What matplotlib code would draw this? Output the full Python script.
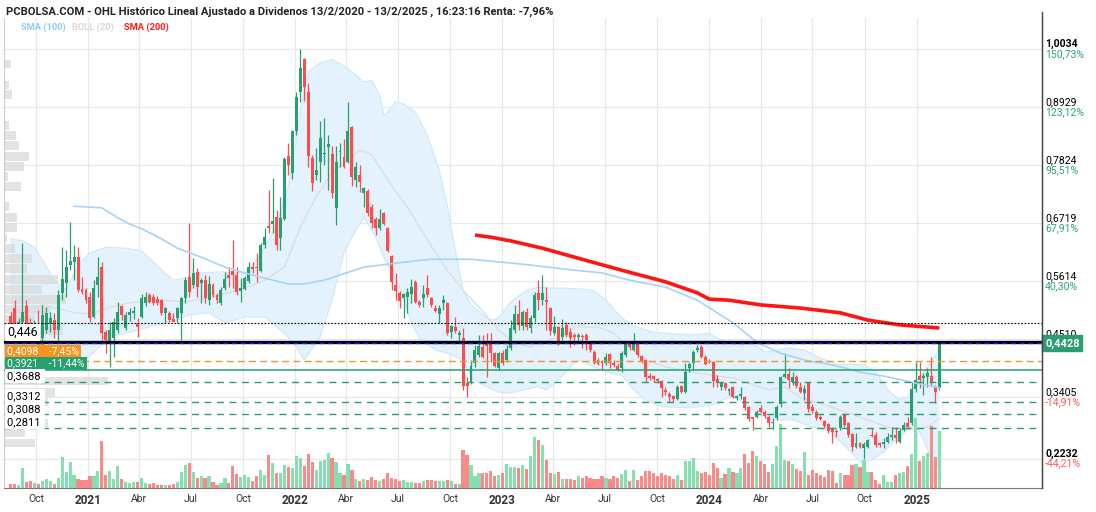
import numpy as np
import pandas as pd
import matplotlib
matplotlib.use("Agg")
import matplotlib.pyplot as plt
import matplotlib.dates as mdates
from matplotlib.patches import Rectangle
from matplotlib.lines import Line2D

plt.rcParams["font.family"] = ["Roboto", "DejaVu Sans"]

# weekly candles, last week = 10/2/2025
last_week = "2025-02-10"

opens = [
    .495, .510, .459, .483, .514, .482, .462, .476, .453, .468,
    .482, .487, .468, .539, .558, .592, .598, .607, .546, .544,
    .531, .493, .554, .588, .464, .443, .453, .468, .514, .472,
    .497, .500, .482, .493, .520, .535, .531, .527, .525, .501,
    .501, .489, .491, .501, .529, .569, .554, .579, .558, .563,
    .525, .554, .535, .520, .548, .573, .581, .573, .543, .546,
    .562, .588, .588, .581, .630, .666, .670, .684, .644, .680,
    .800, .767, .847, .922, .984, .922, .796, .764, .788, .804,
    .817, .804, .701, .807, .798, .788, .855, .754, .764, .729,
    .733, .703, .680, .663, .691, .663, .609, .554, .539, .529,
    .531, .537, .560, .522, .529, .548, .529, .510, .499, .520,
    .520, .464, .474, .459, .453, .367, .369, .405, .421, .436,
    .444, .444, .424, .396, .424, .411, .434, .468, .499, .476,
    .503, .472, .491, .539, .525, .525, .510, .462, .474, .455,
    .478, .465, .459, .455, .457, .459, .443, .426, .411, .409,
    .405, .422, .405, .400, .396, .420, .443, .430, .443, .419,
    .411, .381, .380, .375, .371, .354, .346, .343, .337, .362,
    .350, .396, .405, .430, .436, .417, .409, .407, .375, .360,
    .367, .352, .360, .339, .343, .341, .322, .302, .303, .320,
    .312, .303, .291, .301, .327, .379, .384, .369, .379, .360,
    .348, .367, .322, .312, .302, .295, .289, .280, .276, .282,
    .306, .291, .270, .245, .253, .243, .245, .268, .268, .252,
    .251, .255, .264, .268, .255, .278, .291, .291, .356, .381,
    .377, .379, .381, .360, .358,
]
highs = [
    .503, .525, .491, .634, .525, .491, .487, .506, .516, .512,
    .503, .501, .545, .627, .621, .674, .630, .627, .569, .548,
    .541, .563, .607, .598, .468, .484, .491, .522, .516, .503,
    .510, .514, .491, .537, .541, .539, .537, .533, .527, .512,
    .504, .501, .512, .531, .569, .672, .605, .586, .567, .573,
    .571, .558, .539, .550, .579, .588, .640, .588, .567, .571,
    .598, .598, .615, .633, .663, .735, .758, .697, .722, .798,
    .825, .849, .922, 1.0034, .986, .939, .802, .815, .866, .872,
    .840, .819, .819, .825, .832, .902, .857, .788, .783, .741,
    .737, .708, .684, .699, .693, .665, .612, .577, .543, .539,
    .548, .565, .563, .525, .554, .573, .531, .516, .516, .535,
    .522, .478, .493, .468, .472, .379, .411, .440, .459, .459,
    .462, .462, .426, .426, .430, .440, .487, .516, .525, .506,
    .510, .497, .541, .563, .573, .550, .512, .495, .476, .490,
    .484, .472, .462, .462, .461, .462, .445, .430, .415, .411,
    .424, .424, .411, .405, .428, .445, .445, .462, .445, .421,
    .413, .386, .383, .377, .373, .360, .350, .345, .363, .363,
    .405, .407, .430, .440, .440, .421, .413, .409, .383, .369,
    .369, .358, .362, .345, .360, .343, .324, .303, .316, .325,
    .316, .306, .301, .325, .381, .424, .396, .388, .383, .369,
    .363, .369, .327, .315, .306, .297, .291, .284, .280, .306,
    .310, .293, .272, .272, .255, .255, .261, .282, .274, .255,
    .263, .272, .284, .284, .282, .293, .303, .369, .407, .407,
    .386, .396, .417, .363, .4428,
]
lows = [
    .449, .449, .453, .455, .455, .449, .455, .436, .436, .462,
    .464, .453, .449, .525, .531, .583, .563, .541, .537, .520,
    .483, .491, .531, .449, .424, .398, .417, .462, .487, .468,
    .485, .490, .455, .491, .514, .520, .516, .516, .497, .482,
    .483, .483, .482, .449, .520, .531, .548, .531, .520, .520,
    .516, .531, .520, .516, .544, .550, .548, .535, .522, .544,
    .558, .577, .560, .579, .624, .653, .653, .621, .621, .678,
    .764, .756, .840, .903, .904, .779, .733, .754, .750, .783,
    .735, .720, .668, .779, .777, .786, .743, .741, .731, .703,
    .685, .662, .649, .659, .668, .617, .544, .525, .510, .491,
    .501, .520, .520, .512, .512, .531, .512, .503, .482, .506,
    .459, .453, .462, .445, .354, .341, .365, .398, .417, .415,
    .379, .407, .398, .392, .402, .407, .430, .462, .468, .468,
    .468, .462, .483, .506, .516, .468, .459, .459, .440, .450,
    .455, .436, .440, .444, .434, .430, .426, .404, .402, .392,
    .402, .396, .398, .390, .388, .417, .430, .428, .417, .406,
    .369, .373, .369, .367, .341, .344, .331, .331, .335, .348,
    .348, .388, .392, .426, .415, .402, .405, .360, .360, .354,
    .354, .344, .339, .335, .337, .316, .295, .278, .301, .310,
    .301, .284, .280, .297, .321, .377, .358, .363, .358, .348,
    .335, .312, .310, .297, .297, .281, .272, .253, .265, .278,
    .284, .264, .238, .243, .243, .2232, .243, .264, .245, .245,
    .243, .253, .259, .253, .253, .276, .282, .287, .350, .358,
    .345, .360, .362, .329, .354,
]
closes = [
    .464, .459, .483, .502, .478, .464, .476, .461, .497, .501,
    .491, .468, .535, .565, .588, .600, .607, .544, .541, .525,
    .491, .548, .569, .462, .449, .468, .483, .503, .497, .497,
    .503, .505, .474, .529, .531, .522, .520, .520, .501, .510,
    .487, .484, .510, .529, .563, .541, .577, .550, .563, .529,
    .556, .535, .525, .544, .565, .567, .573, .541, .548, .567,
    .588, .584, .586, .630, .645, .662, .676, .630, .682, .794,
    .783, .847, .912, .967, .931, .800, .748, .773, .834, .806,
    .823, .729, .788, .809, .779, .847, .760, .779, .750, .739,
    .691, .672, .663, .680, .670, .619, .560, .543, .524, .537,
    .541, .550, .522, .516, .537, .535, .516, .504, .510, .525,
    .462, .476, .466, .462, .362, .362, .400, .430, .438, .417,
    .438, .424, .400, .424, .405, .432, .472, .499, .478, .503,
    .474, .491, .535, .525, .539, .522, .466, .474, .443, .472,
    .459, .453, .455, .459, .455, .449, .430, .405, .404, .405,
    .417, .405, .401, .392, .424, .443, .436, .443, .421, .407,
    .379, .377, .375, .371, .358, .350, .341, .337, .360, .350,
    .388, .404, .426, .434, .417, .404, .407, .371, .367, .367,
    .358, .356, .341, .343, .346, .320, .299, .298, .312, .312,
    .304, .291, .293, .321, .379, .384, .373, .379, .362, .350,
    .356, .318, .314, .301, .299, .285, .276, .274, .274, .302,
    .287, .268, .245, .253, .245, .251, .259, .266, .249, .249,
    .255, .264, .268, .263, .276, .287, .284, .356, .373, .373,
    .381, .386, .369, .350, .4428,
]
volumes = [
    4, 4, 3, 20, 6, 7, 5, 4, 7, 9, 7, 4, 10, 31, 16, 26, 13, 9, 8, 8,
    12, 12, 17, 47, 13, 17, 9, 22, 9, 6, 5, 6, 6, 10, 5, 4, 5, 3, 3, 3,
    3, 4, 6, 16, 23, 25, 16, 10, 12, 10,
    12, 6, 3, 5, 10, 5, 22, 14, 11, 13, 11, 7, 12, 18, 13, 33, 25, 15, 15, 23,
    21, 20, 32, 30, 22, 34, 26, 18, 27, 28, 35, 30, 26, 15, 13, 24, 18, 9, 7, 9,
    8, 11, 8, 7, 9, 15, 10, 9, 7, 8, 6, 6, 5,
    5, 7, 8, 8, 7, 7, 7, 8, 7, 4, 4, 38, 33, 23, 12, 15, 15, 15, 17, 12,
    13, 15, 24, 21, 21, 20, 23, 19, 32, 51, 48, 43, 28, 15, 14, 16, 9, 9, 9, 8,
    12, 10, 12, 10, 9, 9, 12, 10, 9, 12, 10, 14,
    18, 7, 18, 8, 12, 17, 17, 15, 12, 15, 13, 12, 9, 13, 8, 27, 27, 30, 17, 15,
    16, 13, 25, 20, 10, 14, 20, 16, 15, 20, 34, 25, 37, 32, 27, 24, 16, 24, 42, 64,
    28, 27, 24, 19, 17, 36, 13, 18, 15, 13, 11,
    18, 17, 5, 15, 13, 13, 23, 24, 21, 28, 16, 16, 8, 4, 13, 6, 6, 13, 15, 16,
    22, 34, 70, 27, 32, 35, 62, 31, 57,
]

# indicator lines (week index, value)
boll_up_idx = [0, 3, 6, 8, 11, 14, 17, 20, 24, 29, 33, 35, 38, 41, 44, 48, 53, 59, 63, 67,
               70, 72, 73, 75, 78, 81, 84, 87, 89, 91, 93, 94, 95, 97, 99, 102, 105, 108, 110, 112,
               114, 116, 119, 121, 123, 126, 130, 133, 136, 140, 144, 147, 150, 154, 157, 162, 167, 172, 176, 179,
               183, 187, 190, 193, 196, 200, 204, 208, 212, 215, 218, 221, 224, 226, 228, 230, 232, 234]
boll_up = [.642, .638, .626, .602, .563, .544, .592, .615, .626, .624, .619, .605, .583, .563, .567, .577, .579, .577, .611, .668,
           .744, .830, .887, .960, .977, .984, .971, .954, .941, .944, .916, .878, .883, .903, .899, .883, .840, .773, .706, .621,
           .544, .516, .497, .487, .491, .522, .544, .550, .548, .548, .546, .543, .525, .491, .476, .464, .461, .459, .462, .449,
           .440, .443, .426, .430, .434, .430, .415, .403, .403, .402, .388, .354, .335, .341, .363, .388, .410, .430]
boll_lo_idx = [0, 3, 7, 10, 14, 18, 23, 25, 30, 35, 39, 42, 45, 50, 54, 59, 64, 69, 72, 74,
               78, 81, 84, 87, 89, 92, 94, 98, 101, 103, 107, 110, 114, 116, 119, 123, 126, 129, 133, 135,
               138, 141, 143, 147, 151, 154, 157, 160, 164, 171, 177, 181, 184, 187, 191, 197, 202, 206, 210, 214,
               217, 220, 223, 226, 228, 230, 232, 234]
boll_lo = [.449, .430, .411, .398, .392, .405, .440, .455, .464, .474, .482, .487, .497, .501, .482, .493, .493, .462, .436, .411,
           .455, .525, .615, .659, .683, .645, .607, .550, .482, .453, .430, .424, .411, .379, .363, .350, .348, .354, .360, .354,
           .373, .398, .411, .398, .386, .381, .354, .335, .322, .320, .325, .341, .335, .316, .297, .297, .283, .278, .249, .217,
           .221, .236, .259, .278, .287, .259, .221, .202]
boll_mid_idx = [0, 5, 10, 17, 21, 25, 30, 38, 44, 50, 59, 64, 69, 73, 77, 81, 85, 88, 91, 95,
                100, 105, 110, 114, 118, 123, 127, 131, 138, 142, 148, 152, 156, 160, 165, 173, 177, 182, 191, 195,
                199, 207, 216, 221, 226, 231, 234]
boll_mid = [.531, .525, .512, .500, .500, .512, .520, .525, .522, .529, .548, .563, .588, .664, .722, .767, .792, .811, .802, .754,
            .702, .640, .582, .544, .512, .468, .443, .436, .455, .474, .474, .462, .434, .411, .398, .386, .382, .377, .354, .360,
            .340, .321, .297, .283, .278, .283, .300]
sma100_idx = [16, 23, 27, 30, 33, 38, 42, 48, 54, 59, 64, 70, 74, 79, 83, 89, 102, 106, 116, 123,
              131, 141, 149, 156, 165, 173, 178, 182, 188, 194, 201, 205, 209, 214, 221, 228, 234]
sma100 = [.704, .701, .682, .670, .661, .642, .624, .607, .588, .577, .567, .556, .556, .563, .573, .588, .600, .603, .603, .598,
          .592, .583, .577, .563, .550, .525, .501, .482, .445, .424, .409, .405, .398, .388, .379, .367, .358]
sma200_idx = [117, 121, 126, 134, 143, 154, 165, 173, 176, 181, 189, 199, 209, 216, 224, 234]
sma200 = [.649, .645, .638, .624, .605, .582, .560, .539, .527, .525, .516, .510, .501, .487, .478, .472]

# volume by price (left side profile)
vp_price = [.975, .935, .916, .857, .838, .819, .798, .779, .760, .741, .703, .682, .663, .643, .624, .605,
            .586, .565, .546, .527, .508, .489, .468, .449, .430, .411, .390, .371, .350, .331, .312, .291,
            .272, .253]
vp_size = [7, 5, 8, 5, 12, 15, 25, 20, 4, 17, 5, 13, 13, 3, 11, 28,
           23, 54, 38, 62, 47, 31, 59, 40, 50, 70, 39, 104, 51, 44, 20, 44,
           21, 31]

# x axis ticks
tick_dates = pd.date_range("2020-10-01", "2025-01-01", freq="QS")
tick_labels = ["Oct", "2021", "Abr", "Jul", "Oct", "2022", "Abr", "Jul", "Oct", "2023", "Abr", "Jul",
               "Oct", "2024", "Abr", "Jul", "Oct", "2025"]

# right axis
price_ticks = [1.0034, 0.8929, 0.7824, 0.6719, 0.5614, 0.4510, 0.3405, 0.2232]
price_labels = ["1,0034", "0,8929", "0,7824", "0,6719", "0,5614", "0,4510", "0,3405", "0,2232"]
pct_labels = ["150,73%", "123,12%", "95,51%", "67,91%", "40,30%", "", "-14,91%", "-44,21%"]

GREEN = "#26a06e"
RED = "#ff4b4b"

n = len(closes)
dates = pd.date_range(end=last_week, periods=n, freq="W-MON")
x = mdates.date2num(dates)
o = np.array(opens)
c = np.array(closes)
h = np.maximum(np.array(highs), np.maximum(o, c))
l = np.minimum(np.array(lows), np.minimum(o, c))
up = c >= o

fig = plt.figure(figsize=(10.96, 5.12), dpi=100)
ax = fig.add_axes([4 / 1096, 24 / 512, 1038 / 1096, 470 / 512])
ax.set_xlim(x[-1] - 1649.6, x[-1] + 181)
ax.set_ylim(0.1672, 1.0626)

# grid
ax.set_yticks(price_ticks)
ax.set_xticks(mdates.date2num(tick_dates))
ax.grid(True, color="#e8e8e8", lw=0.9, zorder=0)
ax.set_axisbelow(True)
ax.tick_params(axis="y", left=False, labelleft=False)
ax.tick_params(axis="x", length=0, pad=4, labelsize=7.5, colors="#333333")
ax.set_xticklabels(tick_labels)
for t in ax.get_xticklabels():
    if t.get_text().isdigit():
        t.set_fontweight("bold")
        t.set_fontsize(8.5)
ax.spines["top"].set_visible(False)
ax.spines["left"].set_color("#cccccc")
ax.spines["bottom"].set_color("#777777")
ax.spines["right"].set_color("#444444")

# bollinger band
band_x = np.concatenate([x[boll_up_idx], x[boll_lo_idx][::-1]])
band_y = np.concatenate([boll_up, boll_lo[::-1]])
ax.fill(band_x, band_y, color="#e3f2fd", zorder=1, lw=0)
ax.plot(x[boll_up_idx], boll_up, color="#cfe7f9", lw=0.8, zorder=1.1)
ax.plot(x[boll_lo_idx], boll_lo, color="#cfe7f9", lw=0.8, zorder=1.1)
ax.plot(x[boll_mid_idx], boll_mid, color="#dedede", lw=1.0, zorder=1.2)

# volume profile
trans_vp = ax.get_yaxis_transform()
vp_w = np.array(vp_size) / max(vp_size) * 0.1
for p, w in zip(vp_price, vp_w):
    ax.add_patch(Rectangle((0, p - 0.0085), w, 0.017, transform=trans_vp,
                           facecolor="#dcdcdc", alpha=0.8, lw=0, zorder=1.5))

# volume bars
vol = np.array(volumes, dtype=float)
vol_h = vol / vol.max() * 0.149
ax.bar(x, vol_h, width=5.6, bottom=0, transform=ax.get_xaxis_transform(),
       color=np.where(up, "#86dfb0", "#f88a8a"), lw=0, zorder=2)

# candles
cols = np.where(up, GREEN, RED)
ax.vlines(x, l, h, colors=cols, lw=0.9, zorder=3)
body = np.maximum(np.abs(c - o), 0.0016)
ax.bar(x, body, width=5.2, bottom=np.minimum(o, c), color=cols, lw=0, zorder=3.1)

# moving averages
ax.plot(x[sma100_idx], sma100, color="#a6d3f7", lw=1.2, zorder=4)
ax.plot(x[sma200_idx], sma200, color="#ff1414", lw=2.6, zorder=4.1, solid_capstyle="butt")

# level lines
ax.axhline(0.481, color="black", lw=0.8, ls=(0, (1.5, 1.5)), zorder=5)
ax.axhline(0.446, color="black", lw=2.4, zorder=5)
ax.axhline(0.4428, color="#1a1aff", lw=0.9, ls=(0, (4, 3)), zorder=5)
ax.axhline(0.4098, color="#f0962a", lw=1.0, ls=(0, (5, 3)), zorder=5)
ax.axhline(0.3921, color=GREEN, lw=1.1, zorder=5)
for lv in [0.3688, 0.3312, 0.3088, 0.2811]:
    ax.axhline(lv, color=GREEN, lw=1.0, ls=(0, (5, 4)), zorder=5)


def left_label(price, text, dy, fc, tc, size=7.5, weight="normal"):
    ax.annotate(text, xy=(0, price), xycoords=("axes fraction", "data"),
                xytext=(3, dy), textcoords="offset pixels", ha="left", va="center",
                fontsize=size, color=tc, fontweight=weight, zorder=10,
                bbox=dict(boxstyle="square,pad=0.18", fc=fc, ec="none"))


left_label(0.446, "0,446", 9, "white", "black", size=9)
left_label(0.4098, "0,4098    -7,45%", 9, "#f7941d", "white")
left_label(0.3921, "0,3921    -11,44%", 6.5, GREEN, "white")
left_label(0.3688, "0,3688 ", 6, "white", "black", size=8)
left_label(0.3312, "0,3312 ", 6, "white", "black", size=8)
left_label(0.3088, "0,3088 ", 4.5, "white", "black", size=8)
left_label(0.2811, "0,2811 ", 6, "white", "black", size=8)

# right axis labels
for i, (p, lab, pct) in enumerate(zip(price_ticks, price_labels, pct_labels)):
    bold = i in (0, len(price_ticks) - 1)
    ax.annotate(lab, xy=(1, p), xycoords=("axes fraction", "data"), xytext=(3, 5),
                textcoords="offset pixels", ha="left", va="center", fontsize=7.6,
                color="black", fontweight="bold" if bold else "normal", annotation_clip=False)
    if pct:
        ax.annotate(pct, xy=(1, p), xycoords=("axes fraction", "data"), xytext=(3, -5),
                    textcoords="offset pixels", ha="left", va="center", fontsize=7.6,
                    color="#2ea574" if not pct.startswith("-") else "#ff5a5a",
                    annotation_clip=False)
ax.annotate("0,4428", xy=(1, 0.4428), xycoords=("axes fraction", "data"), xytext=(3, 0),
            textcoords="offset pixels", ha="left", va="center", fontsize=8,
            color="white", fontweight="bold", annotation_clip=False, zorder=10,
            bbox=dict(boxstyle="square,pad=0.25", fc="#2a9d73", ec="#2a9d73"))

fig.add_artist(Line2D([1042 / 1096] * 2, [1 - 12 / 512, 24 / 512], transform=fig.transFigure,
                      color="#444444", lw=1))

# title and legend
fig.text(6 / 1096, 1 - 12 / 512,
         "PCBOLSA.COM - OHL Histórico Lineal Ajustado a Dividenos 13/2/2020 - 13/2/2025 , 16:23:16 Renta: -7,96%",
         fontsize=8.1, fontweight="semibold", color="#222222", va="center", ha="left")
fig.text(21 / 1096, 1 - 27 / 512, "SMA (100)", fontsize=6.7, fontweight="bold", color="#90caf9", va="center")
fig.text(72 / 1096, 1 - 27 / 512, "BOLL (20)", fontsize=6.7, fontweight="bold", color="#d9d9d9", va="center")
fig.text(124 / 1096, 1 - 27 / 512, "SMA (200)", fontsize=6.7, fontweight="bold", color="#ff1a1a", va="center")

fig.savefig("out.png", dpi=100)
